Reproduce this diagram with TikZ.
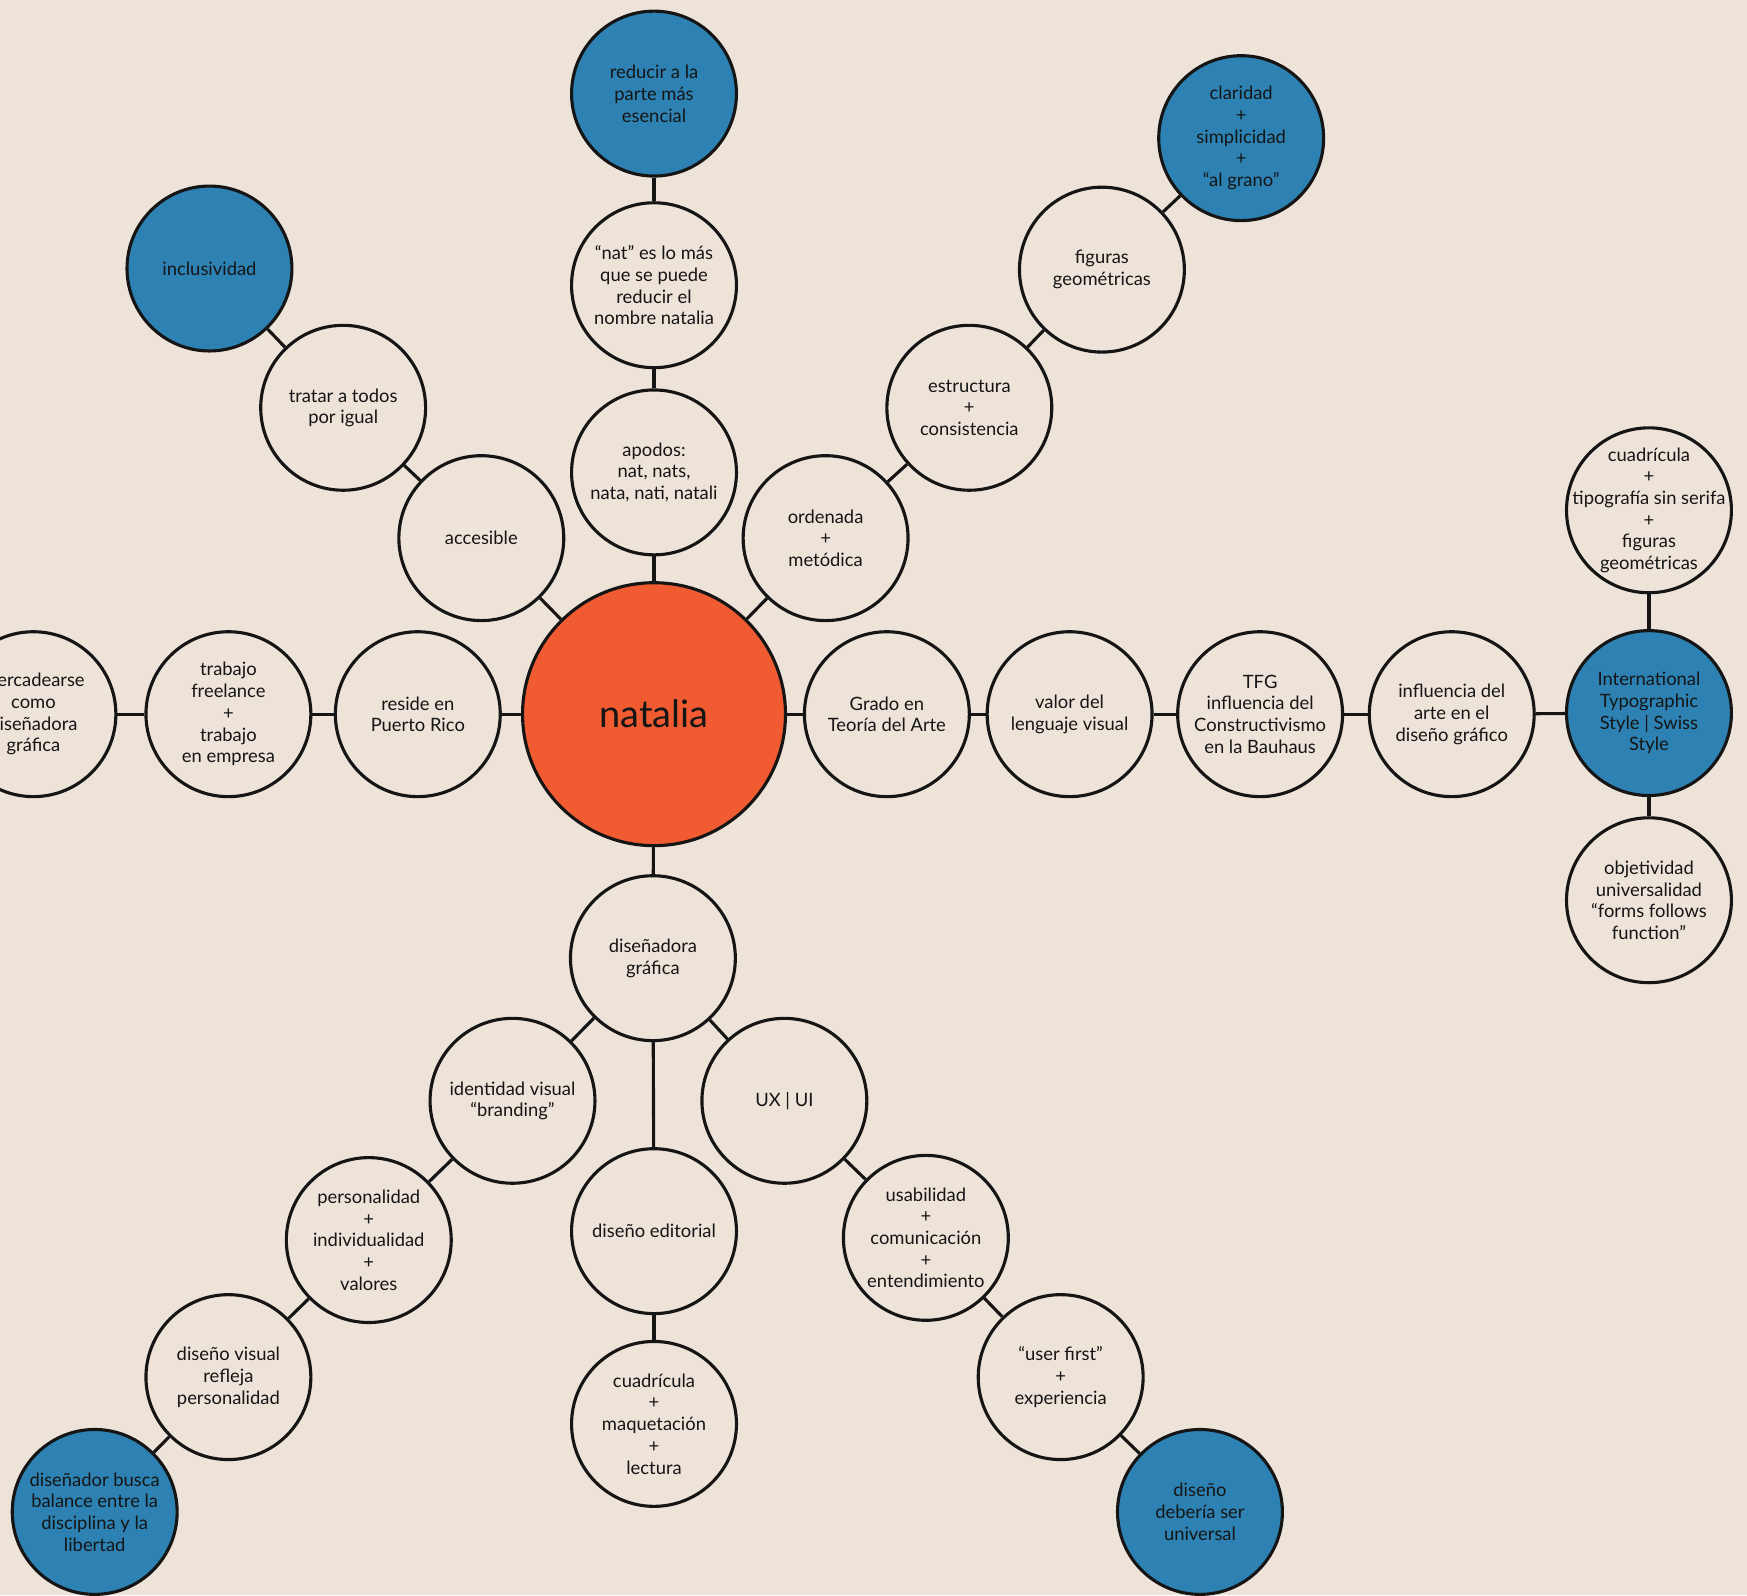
\documentclass[tikz,border=0pt]{standalone}
\usepackage{fontspec}
\setmainfont{Lato}
\definecolor{bgc}{HTML}{EEE3D8}
\definecolor{bluec}{HTML}{2D82B3}
\definecolor{orangec}{HTML}{F05B32}
\definecolor{inkc}{HTML}{151515}
\tikzset{
  bub/.style={circle, draw=inkc, line width=2.8pt, fill=bgc, minimum size=148pt, inner sep=-30pt, align=center, text=inkc, font=\fontsize{16.5}{19.5}\selectfont},
  bluebub/.style={bub, fill=bluec},
  core/.style={circle, draw=inkc, line width=2.8pt, fill=orangec, minimum size=236pt, inner sep=0pt, text=inkc, font=\fontsize{34}{40}\selectfont},
  link/.style={draw=inkc, line width=2.8pt}
}
\begin{document}
\begin{tikzpicture}[x=1pt,y=-1pt]
\clip (0,0) rectangle (1568,1432);
\fill[bgc] (0,0) rectangle (1568,1432);
\node[core] (c) at (587,641) {natalia};
% top branch
\node[bluebub] (n1) at (587,84) {reducir a la\\parte más\\esencial};
\node[bub] (n2) at (587,256) {“nat” es lo más\\que se puede\\reducir el\\nombre natalia};
\node[bub] (n3) at (587,424) {apodos:\\nat, nats,\\nata, nati, natali};
% upper left
\node[bluebub] (n4) at (188,241) {inclusividad};
\node[bub] (n5) at (308,366) {tratar a todos\\por igual};
\node[bub] (n6) at (432,483) {accesible};
% upper right
\node[bluebub] (n7) at (1114,124) {claridad\\+\\simplicidad\\+\\“al grano”};
\node[bub] (n8) at (989,242) {figuras\\geométricas};
\node[bub] (n9) at (870,366) {estructura\\+\\consistencia};
\node[bub] (n10) at (741,483) {ordenada\\+\\metódica};
% left
\node[bub] (n11) at (30,641) {mercadearse\\como\\diseñadora\\gráfica};
\node[bub] (n12) at (205,641) {trabajo\\freelance\\+\\trabajo\\en empresa};
\node[bub] (n13) at (375,641) {reside en\\Puerto Rico};
% right
\node[bub] (n14) at (796,641) {Grado en\\Teoría del Arte};
\node[bub] (n15) at (960,641) {valor del\\lenguaje visual};
\node[bub] (n16) at (1131,641) {TFG\\influencia del\\Constructivismo\\en la Bauhaus};
\node[bub] (n17) at (1303,641) {influencia del\\arte en el\\diseño gráfico};
\node[bluebub] (n18) at (1480,640) {International\\Typographic\\Style | Swiss\\Style};
\node[bub] (n19) at (1480,458) {cuadrícula\\+\\tipografía sin serifa\\+\\figuras\\geométricas};
\node[bub] (n20) at (1480,808) {objetividad\\universalidad\\“forms follows\\function”};
% bottom
\node[bub] (n21) at (586,860) {diseñadora\\gráfica};
\node[bub] (n22) at (460,988) {identidad visual\\“branding”};
\node[bub] (n23) at (704,988) {UX | UI};
\node[bub] (n24) at (587,1105) {diseño editorial};
\node[bub] (n25) at (587,1278) {cuadrícula\\+\\maquetación\\+\\lectura};
\node[bub] (n26) at (331,1113) {personalidad\\+\\individualidad\\+\\valores};
\node[bub] (n27) at (205,1236) {diseño visual\\refleja\\personalidad};
\node[bluebub] (n28) at (85,1357) {diseñador busca\\balance entre la\\disciplina y la\\libertad};
\node[bub] (n29) at (831,1111) {usabilidad\\+\\comunicación\\+\\entendimiento};
\node[bub] (n30) at (952,1236) {“user first”\\+\\experiencia};
\node[bluebub] (n31) at (1077,1357) {diseño\\debería ser\\universal};
% links
\foreach \a/\b in {c/n3,n3/n2,n2/n1,c/n6,n6/n5,n5/n4,c/n10,n10/n9,n9/n8,n8/n7,
  c/n13,n13/n12,n12/n11,c/n14,n14/n15,n15/n16,n16/n17,n17/n18,n18/n19,n18/n20,
  c/n21,n21/n22,n21/n23,n21/n24,n24/n25,n22/n26,n26/n27,n27/n28,n23/n29,n29/n30,n30/n31}
  \draw[link] (\a) -- (\b);
\end{tikzpicture}
\end{document}
